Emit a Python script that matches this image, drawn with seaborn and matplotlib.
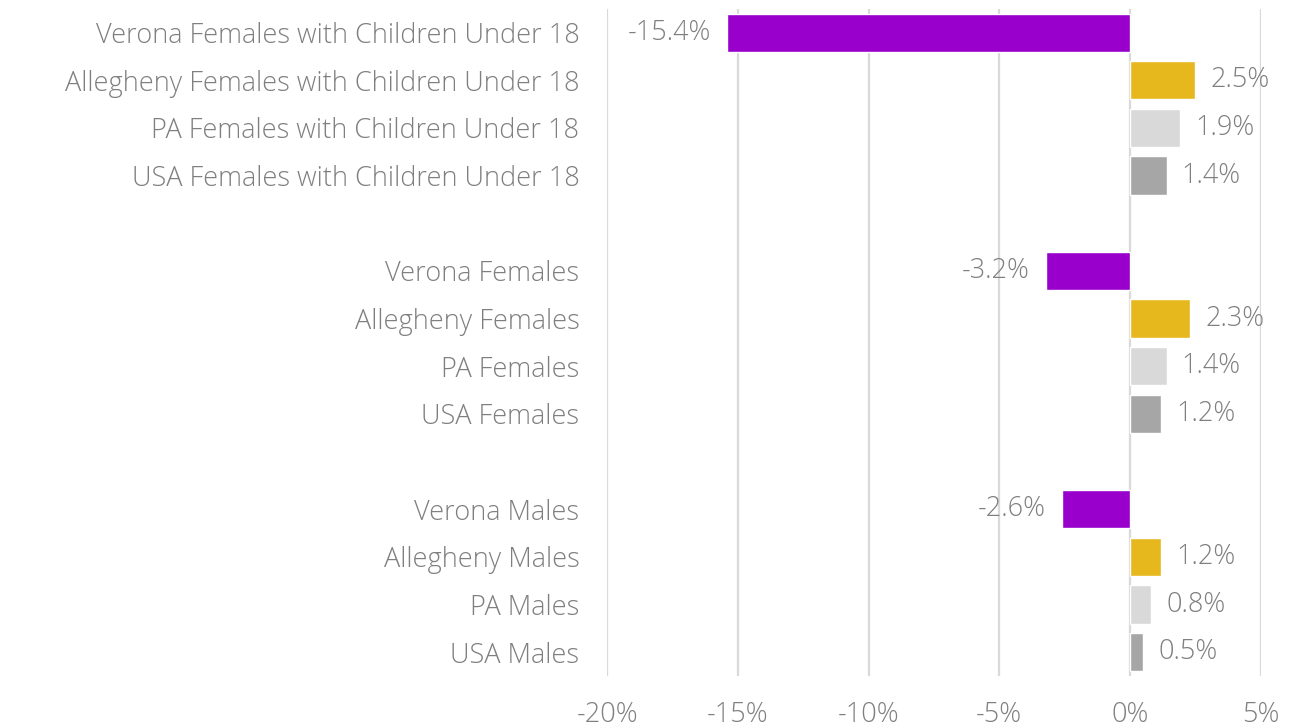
import matplotlib
matplotlib.use('Agg')
import matplotlib.pyplot as plt
import seaborn as sns
import pandas as pd
from matplotlib.ticker import FuncFormatter

sns.set_theme(style='white')
plt.rcParams['font.family'] = ['Open Sans', 'DejaVu Sans']

# ---------------------------------------------------------------------------
# data
# ---------------------------------------------------------------------------
labels = [
    'Verona Females with Children Under 18',
    'Allegheny Females with Children Under 18',
    'PA Females with Children Under 18',
    'USA Females with Children Under 18',
    'Verona Females', 'Allegheny Females', 'PA Females', 'USA Females',
    'Verona Males', 'Allegheny Males', 'PA Males', 'USA Males',
]
values = [-15.4, 2.5, 1.9, 1.4,
          -3.2, 2.3, 1.4, 1.2,
          -2.6, 1.2, 0.8, 0.5]
geo = ['Verona', 'Allegheny', 'PA', 'USA'] * 3
# blank slots between the groups
order = labels[:4] + [' '] + labels[4:8] + ['  '] + labels[8:]

PALETTE = {'Verona': '#9900CC', 'Allegheny': '#E6B81E',
           'PA': '#D9D9D9', 'USA': '#A6A6A6'}
TEXT = '#7F7F7F'
FS = 19.5

df = pd.DataFrame({'label': labels, 'value': values, 'geo': geo})

fig = plt.figure(figsize=(12.89, 7.28), dpi=100)
ax = fig.add_axes([0.471, 0.0714, 0.507, 0.9166])

sns.barplot(data=df, y='label', x='value', hue='geo', order=order,
            palette=PALETTE, dodge=False, width=0.8, legend=False,
            saturation=1, ax=ax)

ax.set_xlim(-20, 5)
ax.set_ylim(len(order) - 0.5, -0.5)
ax.set_xticks([-20, -15, -10, -5, 0, 5])
ax.xaxis.set_major_formatter(FuncFormatter(lambda v, _: f'{v:.0f}%'))
ax.grid(axis='x', color='#D9D9D9', lw=1.6)
ax.set_axisbelow(True)
for s in ax.spines.values():
    s.set_visible(False)
ax.set_xlabel('')
ax.set_ylabel('')
ax.tick_params(axis='x', length=0, pad=18, labelsize=FS, labelcolor=TEXT)
ax.tick_params(axis='y', length=0, pad=20, labelsize=FS, labelcolor=TEXT)

# value labels
for container in ax.containers:
    for bar in container:
        w = bar.get_width()
        if pd.isna(w) or w == 0:
            continue
        y = bar.get_y() + bar.get_height() / 2
        if w < 0:
            ax.annotate(f'{w:.1f}%', (w, y), xytext=(-12, 0),
                        textcoords='offset points', ha='right', va='center',
                        fontsize=FS, color=TEXT)
        else:
            ax.annotate(f'{w:.1f}%', (w, y), xytext=(11, 0),
                        textcoords='offset points', ha='left', va='center',
                        fontsize=FS, color=TEXT)

for t in ax.get_xticklabels() + ax.get_yticklabels():
    t.set_fontweight('light')
for t in ax.texts:
    t.set_fontweight('light')

fig.savefig('out.png', dpi=100)
